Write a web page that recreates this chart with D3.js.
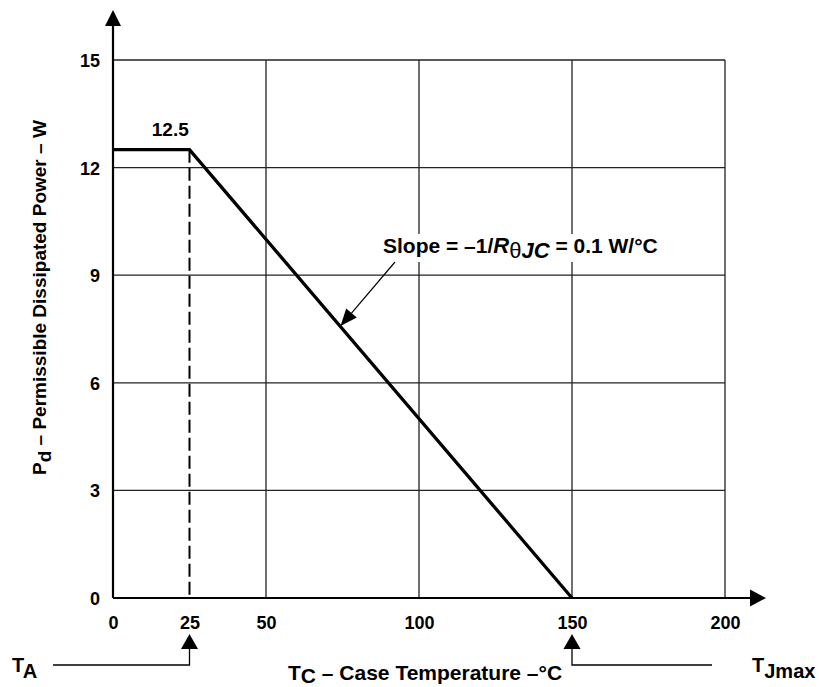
<!DOCTYPE html>
<html>
<head>
<meta charset="utf-8">
<script src="https://cdn.jsdelivr.net/npm/d3@7"></script>
<style>
  body { margin: 0; background: #fff; }
  svg { font-family: "Liberation Sans", Arial, sans-serif; font-weight: bold; }
</style>
</head>
<body>
<svg id="drawing_region"></svg>
<script>
// data
const xTicks = [0, 25, 50, 100, 150, 200];
const xGrid = [50, 100, 150, 200];
const yTicks = [0, 3, 6, 9, 12, 15];
const yGrid = [3, 6, 9, 12, 15];
const derating = [
  { t: 0, p: 12.5 },
  { t: 25, p: 12.5 },
  { t: 150, p: 0 }
];
const tA = 25, tJmax = 150, pMax = 12.5;
const slopeAt = { t: 75, p: 7.5 };

const width = 819;
const height = 687;

const svg = d3.select('#drawing_region')
  .attr('width', width)
  .attr('height', height);

const x = d3.scaleLinear().domain([0, 200]).range([113, 725]);
const y = d3.scaleLinear().domain([0, 15]).range([598, 60]);

// grid
svg.append('g')
  .selectAll('line')
  .data(yGrid)
  .enter()
  .append('line')
  .attr('x1', x(0)).attr('x2', x(200))
  .attr('y1', d => y(d)).attr('y2', d => y(d))
  .attr('stroke', '#222').attr('stroke-width', 1.3);

svg.append('g')
  .selectAll('line')
  .data(xGrid)
  .enter()
  .append('line')
  .attr('x1', d => x(d)).attr('x2', d => x(d))
  .attr('y1', y(0)).attr('y2', y(15))
  .attr('stroke', '#222').attr('stroke-width', 1.3);

// tick labels via axes
const xAxis = d3.axisBottom(x).tickValues(xTicks).tickSize(0).tickPadding(0);
const yAxis = d3.axisLeft(y).tickValues(yTicks).tickSize(0).tickPadding(0);

const gx = svg.append('g')
  .attr('transform', `translate(0, ${y(0)})`)
  .call(xAxis);
gx.select('.domain').remove();
gx.selectAll('text')
  .attr('y', 31).attr('dy', null)
  .attr('font-size', 18).attr('font-family', null).attr('fill', '#000');

const gy = svg.append('g')
  .attr('transform', `translate(${x(0) - 13}, 0)`)
  .call(yAxis);
gy.select('.domain').remove();
gy.selectAll('text')
  .attr('dy', '0.36em')
  .attr('font-size', 18).attr('font-family', null).attr('fill', '#000');

// axis lines with arrows
const arrow = (g, tipX, tipY, dir, len, half) => {
  let pts;
  if (dir === 'up') pts = [[tipX, tipY], [tipX - half, tipY + len], [tipX + half, tipY + len]];
  else if (dir === 'right') pts = [[tipX, tipY], [tipX - len, tipY - half], [tipX - len, tipY + half]];
  else pts = [[tipX, tipY], [tipX - half, tipY - len], [tipX + half, tipY - len]];
  g.append('path').attr('d', 'M' + pts.join('L') + 'Z').attr('fill', '#000');
};

svg.append('line')
  .attr('x1', x(0)).attr('x2', x(0))
  .attr('y1', y(0)).attr('y2', 24)
  .attr('stroke', '#000').attr('stroke-width', 2.2);
arrow(svg, x(0), 10, 'up', 16, 8);

svg.append('line')
  .attr('x1', x(0)).attr('x2', 751)
  .attr('y1', y(0)).attr('y2', y(0))
  .attr('stroke', '#000').attr('stroke-width', 2.2);
arrow(svg, 766, y(0), 'right', 16, 8.5);

// dashed line at TA
svg.append('line')
  .attr('x1', x(tA)).attr('x2', x(tA))
  .attr('y1', y(pMax)).attr('y2', y(0))
  .attr('stroke', '#000').attr('stroke-width', 2)
  .attr('stroke-dasharray', '13,5');

// derating curve
const line = d3.line()
  .x(d => x(d.t))
  .y(d => y(d.p));

svg.append('path')
  .attr('d', line(derating))
  .attr('stroke', '#000')
  .attr('stroke-width', 3.3)
  .attr('fill', 'none');

svg.append('text')
  .attr('x', (x(0) + x(tA)) / 2 + 19)
  .attr('y', y(pMax) - 14)
  .attr('text-anchor', 'middle')
  .attr('font-size', 19)
  .text(pMax);

// slope annotation
const tip = [x(slopeAt.t) - 2, y(slopeAt.p) - 3];
const tail = [395, 262];
const ang = Math.atan2(tip[1] - tail[1], tip[0] - tail[0]);
const hl = 17, hw = 7;
const bx = tip[0] - hl * Math.cos(ang), by = tip[1] - hl * Math.sin(ang);
svg.append('line')
  .attr('x1', tail[0]).attr('y1', tail[1])
  .attr('x2', bx).attr('y2', by)
  .attr('stroke', '#000').attr('stroke-width', 1.2);
svg.append('path')
  .attr('d', `M${tip[0]},${tip[1]}L${bx - hw * Math.sin(ang)},${by + hw * Math.cos(ang)}L${bx + hw * Math.sin(ang)},${by - hw * Math.cos(ang)}Z`)
  .attr('fill', '#000');

const slopeText = svg.append('text')
  .attr('x', 383).attr('y', 253)
  .attr('font-size', 21);
slopeText.append('tspan').text('Slope = –1/');
slopeText.append('tspan').attr('font-style', 'italic').attr('font-size', 22).text('R');
slopeText.append('tspan').attr('font-weight', 'normal').attr('dy', 5).attr('font-size', 22).text('θ');
slopeText.append('tspan').attr('font-style', 'italic').attr('font-size', 22).text('JC');
slopeText.append('tspan').attr('dy', -5).text(' = 0.1 W/°C');
const bb = slopeText.node().getBBox();
svg.insert('rect', () => slopeText.node())
  .attr('x', bb.x - 3).attr('y', bb.y + 1)
  .attr('width', bb.width + 6).attr('height', bb.height - 2)
  .attr('fill', '#fff');

// TA and TJmax markers
const markY = 665, tipY = 634;
svg.append('path')
  .attr('d', `M53,${markY}H${x(tA)}V${tipY + 14}`)
  .attr('stroke', '#000').attr('stroke-width', 1.3).attr('fill', 'none');
arrow(svg, x(tA), tipY, 'up', 15, 8.5);

svg.append('path')
  .attr('d', `M712,${markY}H${x(tJmax)}V${tipY + 14}`)
  .attr('stroke', '#000').attr('stroke-width', 1.3).attr('fill', 'none');
arrow(svg, x(tJmax), tipY, 'up', 15, 8.5);

const ta = svg.append('text').attr('x', 12).attr('y', 672).attr('font-size', 20);
ta.append('tspan').text('T');
ta.append('tspan').attr('dy', 6).text('A');

const tj = svg.append('text').attr('x', 752).attr('y', 672).attr('font-size', 20);
tj.append('tspan').text('T');
tj.append('tspan').attr('dy', 6).text('Jmax');

// axis titles
const xt = svg.append('text').attr('x', 288).attr('y', 680).attr('font-size', 21);
xt.append('tspan').text('T');
xt.append('tspan').attr('dy', 3).text('C');
xt.append('tspan').attr('dy', -3).text(' – Case Temperature –°C');

const yt = svg.append('text')
  .attr('transform', 'translate(46, 475) rotate(-90)')
  .attr('font-size', 19);
yt.append('tspan').text('P');
yt.append('tspan').attr('dy', 5).text('d');
yt.append('tspan').attr('dy', -5).text(' – Permissible Dissipated Power – W');
</script>
</body>
</html>
